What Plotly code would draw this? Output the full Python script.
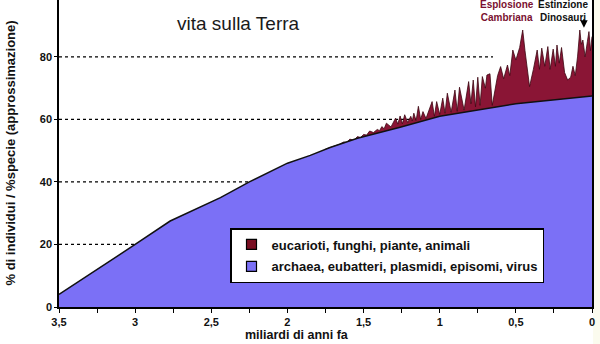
import plotly.graph_objects as go

# Time axis in billions of years ago (3.5 -> 0)
blue_x = [3.5, 3.23, 3.0, 2.77, 2.57, 2.44, 2.25, 2.0, 1.85, 1.72, 1.54, 1.26, 1.0, 0.5, 0.0]
# prokaryotes, plasmids, viruses (share, %)
blue_y = [4.0, 12.5, 20.0, 27.5, 32.0, 35.0, 40.0, 46.0, 48.5, 51.0, 54.0, 57.5, 61.0, 65.0, 67.5]

# upper envelope: prokaryotes + eukaryotes (share, %)
total_x = [1.75, 1.66, 1.63, 1.61, 1.59, 1.565, 1.54, 1.52, 1.50, 1.48, 1.46, 1.435, 1.41,
           1.395, 1.38, 1.365, 1.35, 1.32, 1.29, 1.275, 1.26, 1.245, 1.23, 1.21, 1.19, 1.18,
           1.17, 1.155, 1.14, 1.125, 1.11, 1.09, 1.05, 1.035, 1.02, 1.0, 0.98, 0.965, 0.95,
           0.925, 0.90, 0.885, 0.87, 0.84, 0.81, 0.795, 0.78, 0.765, 0.75, 0.735, 0.72, 0.70,
           0.69, 0.67, 0.655, 0.62, 0.60, 0.58, 0.555, 0.54, 0.52, 0.50, 0.475, 0.455, 0.44,
           0.41, 0.385, 0.36, 0.345, 0.33, 0.31, 0.29, 0.275, 0.255, 0.24, 0.23, 0.215, 0.20,
           0.18, 0.16, 0.14, 0.125, 0.11, 0.095, 0.08, 0.07, 0.06, 0.045, 0.03, 0.02, 0.01, 0.0]
total_y = [50.5, 52.0, 52.8, 52.6, 53.7, 53.3, 54.5, 54.2, 55.2, 55.0, 56.3, 55.8, 56.8,
           56.4, 57.7, 57.0, 58.8, 57.6, 60.4, 58.5, 61.1, 58.6, 61.5, 59.0, 61.0, 59.5,
           62.0, 59.6, 64.2, 60.0, 62.5, 60.3, 65.7, 61.0, 65.7, 61.6, 66.8, 62.0, 68.4,
           62.3, 69.4, 62.6, 70.3, 63.0, 72.1, 65.0, 72.6, 64.0, 73.5, 64.5, 73.7, 70.0,
           74.2, 74.6, 64.5, 74.0, 76.9, 73.0, 77.4, 74.0, 82.2, 79.0, 83.0, 88.6, 82.0,
           70.5, 76.0, 82.2, 76.0, 82.8, 77.0, 83.3, 76.0, 82.5, 77.0, 83.8, 78.0, 83.0,
           75.0, 72.6, 73.5, 77.0, 74.0, 80.0, 88.6, 84.0, 85.4, 80.0, 85.0, 88.1, 82.0, 86.5]

tick_vals = [3.5, 3.25, 3.0, 2.75, 2.5, 2.25, 2.0, 1.75, 1.5, 1.25, 1.0, 0.75, 0.5, 0.25, 0.0]
tick_text = ["3,5", "", "3", "", "2,5", "", "2", "", "1,5", "", "1", "", "0,5", "", "0"]
y_ticks = [0, 20, 40, 60, 80]

legend_names = ["eucarioti, funghi, piante, animali", "archaea, eubatteri, plasmidi, episomi, virus"]

RED = "#8a1535"
BLUE = "#7b70f6"
FONT = "Liberation Sans, Arial, sans-serif"

fig = go.Figure()

# eukaryote band: envelope filled to zero, lower part hidden by the prokaryote area
fig.add_trace(go.Scatter(x=total_x, y=total_y, mode="lines", fill="tozeroy",
                         fillcolor=RED, line=dict(color="#3c0612", width=0.8),
                         showlegend=False, hoverinfo="skip"))
fig.add_trace(go.Scatter(x=blue_x, y=blue_y, mode="lines", fill="tozeroy",
                         fillcolor=BLUE, line=dict(color="#111111", width=1.5),
                         showlegend=False, hoverinfo="skip"))

# legend entries with square swatches
for name, col, grp in [(legend_names[0], "#7a0f22", "a"), (legend_names[1], BLUE, "b")]:
    fig.add_trace(go.Scatter(x=[None], y=[None], mode="markers", name=name, legendgroup=grp,
                             marker=dict(symbol="square", size=10, color=col,
                                         line=dict(color="black", width=1.2))))

# dotted horizontal guides
shapes = []
for v in y_ticks[1:]:
    x_end = 0.65 if v == 80 else 0.0
    shapes.append(dict(type="line", xref="x", yref="y", x0=3.5, x1=x_end, y0=v, y1=v,
                       line=dict(color="black", width=1.2, dash="dot"), layer="below"))
# pale strip beyond the right frame
shapes.append(dict(type="rect", xref="paper", yref="paper", x0=1.002, x1=1.03, y0=-0.2, y1=1.0,
                   fillcolor="#fbfbee", line=dict(width=0), layer="below"))

annotations = [
    dict(text="vita sulla Terra", xref="paper", yref="paper",
         x=(238 - 59) / 533, y=(307 - 23) / 307, showarrow=False,
         font=dict(family=FONT, size=19, color="#1a1a1a"), xanchor="center", yanchor="middle"),
    dict(text="Esplosione<br>Cambriana", xref="paper", yref="paper",
         x=(507 - 59) / 533, y=(307 - 11) / 307, showarrow=False,
         font=dict(family=FONT, size=10, color="#7a1030", weight="bold"),
         xanchor="center", yanchor="middle"),
    dict(text="Estinzione<br>Dinosauri", xref="paper", yref="paper",
         x=(563 - 59) / 533, y=(307 - 11) / 307, showarrow=False,
         font=dict(family=FONT, size=10, color="#111111", weight="bold"),
         xanchor="center", yanchor="middle"),
    dict(text=" ", x=0.053, y=89.3, xref="x", yref="y", showarrow=True, ax=0, ay=-17,
         arrowhead=2, arrowsize=1, arrowwidth=1.5, arrowcolor="black"),
    dict(text="% di individui / %specie (approssimazione)", xref="paper", yref="paper",
         x=0, y=0.5, xshift=-49, textangle=-90, showarrow=False,
         font=dict(family=FONT, size=13, color="#111111", weight="bold"),
         xanchor="center", yanchor="middle"),
    dict(text="miliardi di anni fa", xref="paper", yref="paper",
         x=(297 - 59) / 533, y=0, yshift=-37, showarrow=False,
         font=dict(family=FONT, size=12.5, color="#111111", weight="bold"),
         xanchor="center", yanchor="bottom"),
]

fig.update_layout(
    width=600, height=344,
    margin=dict(l=59, r=8, t=0, b=37, pad=0),
    paper_bgcolor="white", plot_bgcolor="white",
    font=dict(family=FONT, color="#111111"),
    shapes=shapes, annotations=annotations,
    showlegend=True,
    legend=dict(x=(230 - 59) / 533, y=(307 - 228) / 307, xanchor="left", yanchor="top",
                bgcolor="white", bordercolor="black", borderwidth=1.5,
                font=dict(family=FONT, size=13, color="#111111", weight="bold"),
                traceorder="grouped", tracegroupgap=2, itemwidth=30),
    xaxis=dict(range=[3.5, 0], tickvals=tick_vals, ticktext=tick_text,
               showgrid=False, zeroline=False, showline=True, linecolor="black", linewidth=1.5,
               ticks="outside", ticklen=4, tickwidth=1, tickcolor="black",
               tickfont=dict(family=FONT, size=11, color="#111111", weight="bold")),
    yaxis=dict(range=[0, 98.2], tickvals=y_ticks, showgrid=False, zeroline=False,
               showline=True, mirror=True, linecolor="black", linewidth=1.5,
               ticks="outside", ticklen=3, tickwidth=1, tickcolor="black",
               tickfont=dict(family=FONT, size=11, color="#111111", weight="bold")),
)

fig.write_html("out.html")
